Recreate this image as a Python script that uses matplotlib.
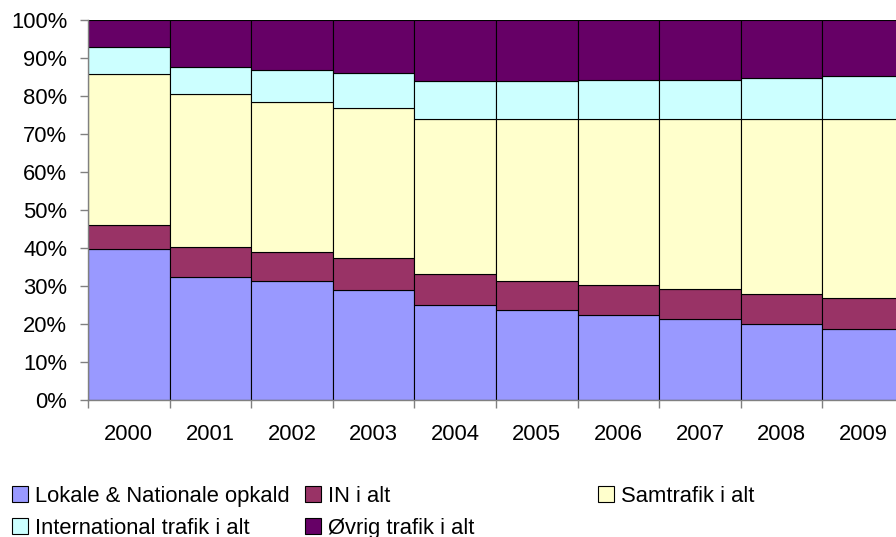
import matplotlib
matplotlib.use("Agg")
import matplotlib.pyplot as plt
import numpy as np

years = ["2000", "2001", "2002", "2003", "2004", "2005", "2006", "2007", "2008", "2009"]
lokale = [39.8, 32.5, 31.3, 28.9, 25.1, 23.8, 22.5, 21.2, 20.0, 18.7]
in_alt = [6.2, 7.7, 7.6, 8.4, 8.0, 7.5, 7.7, 8.0, 8.0, 8.05]
samtrafik = [39.7, 40.4, 39.6, 39.5, 40.8, 42.6, 43.7, 44.7, 45.9, 47.15]
international = [7.1, 7.1, 8.3, 9.25, 10.0, 10.0, 10.4, 10.4, 10.8, 11.3]
oevrig = [7.2, 12.3, 13.2, 13.95, 16.1, 16.1, 15.7, 15.7, 15.3, 14.8]

series_names = ["Lokale & Nationale opkald", "IN i alt", "Samtrafik i alt",
                "International trafik i alt", "Øvrig trafik i alt"]
series_vals = [lokale, in_alt, samtrafik, international, oevrig]
colors = ["#9999FF", "#993366", "#FFFFCC", "#CCFFFF", "#660066"]

plt.rcParams['font.family'] = ['Liberation Sans', 'DejaVu Sans']
FS = 15.8

W, H = 896, 537
fig = plt.figure(figsize=(W / 100, H / 100), dpi=100)
ax = fig.add_axes([88 / W, 1 - 400 / H, 816 / W, 380 / H])

x = np.arange(len(years))
bottom = np.zeros(len(years))
handles = []
for name, vals, c in zip(series_names, series_vals, colors):
    v = np.array(vals, dtype=float)
    b = ax.bar(x, v, bottom=bottom, width=1.0, color=c, edgecolor="black",
               linewidth=0.8, label=name)
    handles.append(b)
    bottom += v

ax.set_xlim(-0.5, 9.5)
ax.set_ylim(0, 100)
ax.set_yticks(np.arange(0, 101, 10))
ax.set_yticklabels([f"{v}%" for v in range(0, 101, 10)], fontsize=FS)
ax.set_xticks(x)
ax.set_xticklabels(years, fontsize=FS)
ax.set_xticks(np.arange(-0.5, 10, 1.0), minor=True)
ax.tick_params(axis="x", which="major", length=0, pad=17)
ax.tick_params(axis="x", which="minor", length=6, width=1, color="#808080", direction="out")
ax.tick_params(axis="y", which="major", length=6, width=1, color="#808080", direction="out", pad=9)
for s in ["top", "right"]:
    ax.spines[s].set_visible(False)
for s in ["left", "bottom"]:
    ax.spines[s].set_color("#808080")
    ax.spines[s].set_linewidth(1)

def add_leg(hs, xpx, ypx):
    leg = fig.legend(handles=[handles[i] for i in hs],
                     labels=[series_names[i] for i in hs],
                     loc="upper left",
                     bbox_to_anchor=(xpx / W, 1 - ypx / H),
                     bbox_transform=fig.transFigure,
                     frameon=False, fontsize=FS, borderpad=0, borderaxespad=0,
                     handlelength=0.75, handleheight=0.75, handletextpad=0.3,
                     labelspacing=0.48)
    for p in leg.get_patches():
        p.set_edgecolor("black")
        p.set_linewidth(0.8)
    return leg

add_leg([0, 3], 12, 486)
add_leg([1, 4], 305, 486)
add_leg([2], 598, 486)

fig.savefig("out.png", dpi=100)
